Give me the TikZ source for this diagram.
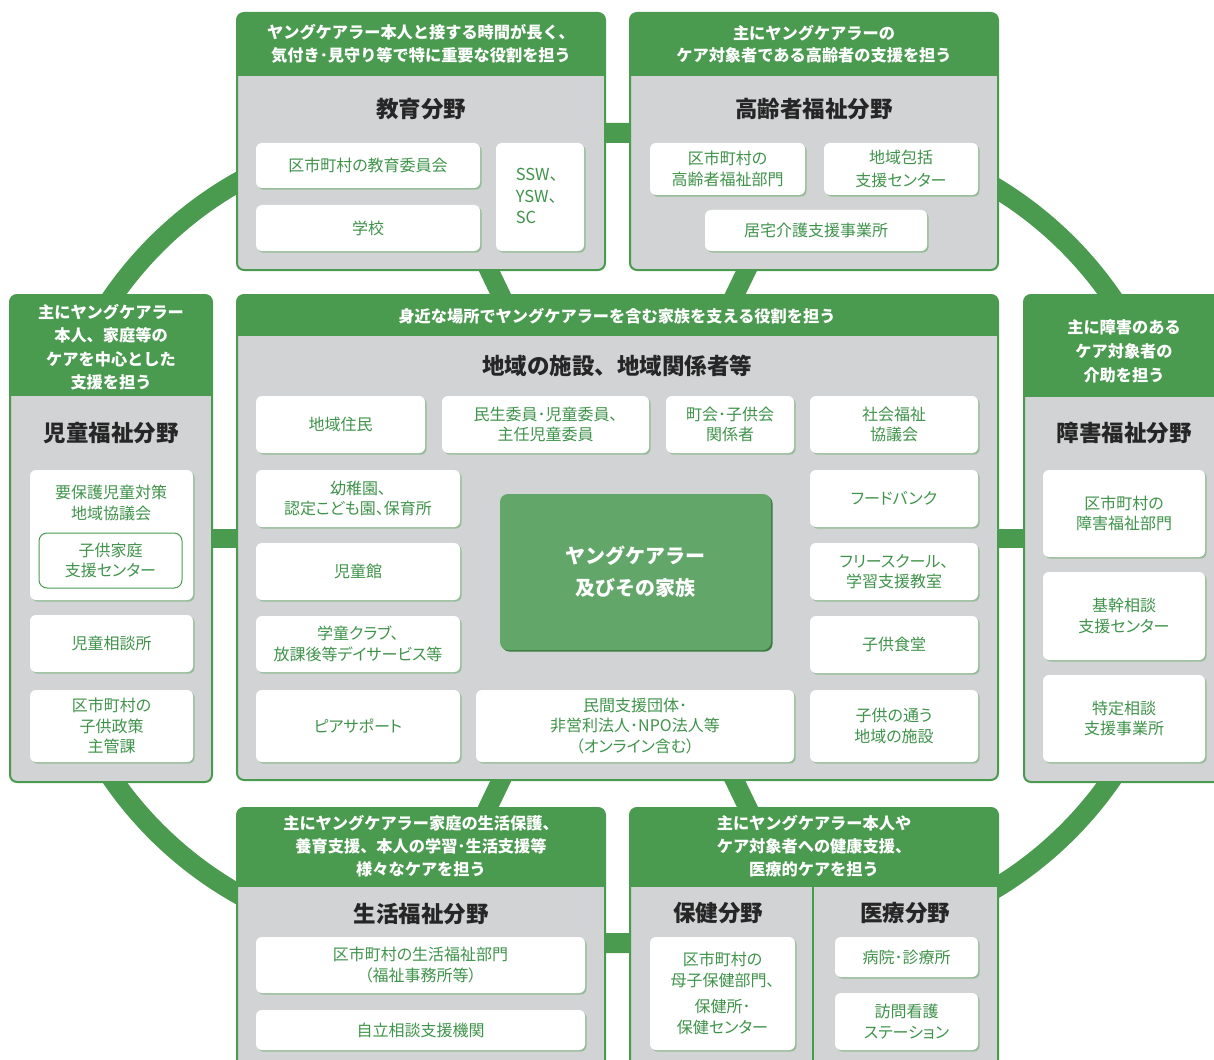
\documentclass[tikz,border=0pt]{standalone}
\usepackage{fontspec}
\setmainfont{Noto Sans CJK JP}
\newfontfamily\pjfont{Noto Sans CJK JP}[RawFeature=+palt]
\usetikzlibrary{shadows,backgrounds}
\definecolor{hdr}{HTML}{4A9A50}
\definecolor{pg}{HTML}{D2D3D5}
\definecolor{itx}{HTML}{3F934A}
\definecolor{ttl}{HTML}{262626}
\definecolor{famc}{HTML}{62A66A}
\definecolor{shc}{HTML}{97BC9A}
\tikzset{
 pbox/.style={draw=hdr, line width=2pt, fill=pg, rounded corners=7pt, inner sep=0pt, outer sep=0pt},
 hdrtxt/.style={text=white, font=\bfseries\fontsize{16.2}{22.5}\selectfont, align=center, inner sep=0pt},
 ttltxt/.style={text=ttl, font=\bfseries\fontsize{22.5}{26}\selectfont, inner sep=0pt},
 ibox/.style={fill=white, rounded corners=6pt, inner sep=0pt, text=itx, align=center,
   font=\pjfont\fontsize{16}{20.5}\selectfont,
   drop shadow={shadow xshift=1.6pt, shadow yshift=-1.6pt, fill=shc, opacity=1}},
 ring/.style={draw=hdr, line width=20pt},
 spoke/.style={draw=hdr, line width=19pt},
}
\newcommand{\mkpanel}[6]{%
 \node[pbox, anchor=north west, minimum width={#4pt-#2pt}, minimum height={#5pt-#3pt}] (#1) at (#2,#3) {};
 \begin{scope}
 \clip[rounded corners=7pt] (#2,#3) rectangle (#4,#5);
 \fill[hdr] (#2,#3) rectangle (#4,#6);
 \end{scope}}
\newcommand{\ib}[6]{\node[ibox, minimum width={#4pt-#2pt}, minimum height={#5pt-#3pt}] (#1) at ({(#2+#4)/2},{(#3+#5)/2}) {#6};}
\begin{document}
\begin{tikzpicture}[x=1pt,y=-1pt]
\useasboundingbox (0,0) rectangle (1214,1059);

% ---------- panels ----------
\mkpanel{edu}{237}{13}{605}{270}{76}
\mkpanel{eld}{630}{13}{998}{270}{76}
\mkpanel{kid}{10}{295}{212}{782}{396}
\mkpanel{dis}{1024}{295}{1226}{782}{397}
\mkpanel{cen}{237}{295}{998}{780}{336}
\mkpanel{life}{237}{808}{605}{1085}{887}
\mkpanel{hea}{630}{808}{998}{1085}{887}
\draw[hdr, line width=2pt] (813,887) -- (813,1085);

% ---------- headers ----------
\node[hdrtxt] (eduh) at (421,44) {ヤングケアラー本人と接する時間が長く、\\気付き･見守り等で特に重要な役割を担う};
\node[hdrtxt] (eldh) at (814,44) {主にヤングケアラーの\\ケア対象者である高齢者の支援を担う};
\node[hdrtxt, font=\bfseries\fontsize{16.2}{23.5}\selectfont] (kidh) at (111,347) {主にヤングケアラー\\本人、家庭等の\\ケアを中心とした\\支援を担う};
\node[hdrtxt, font=\bfseries\fontsize{16.2}{24}\selectfont] (dish) at (1124,351) {主に障害のある\\ケア対象者の\\介助を担う};
\node[hdrtxt] (cenh) at (617,316) {身近な場所でヤングケアラーを含む家族を支える役割を担う};
\node[hdrtxt, font=\bfseries\fontsize{16.2}{23}\selectfont] (lifeh) at (421,846) {主にヤングケアラー家庭の生活保護、\\養育支援、本人の学習･生活支援等\\様々なケアを担う};
\node[hdrtxt, font=\bfseries\fontsize{16.2}{23}\selectfont] (heah) at (814,846) {主にヤングケアラー本人や\\ケア対象者への健康支援、\\医療的ケアを担う};

% ---------- titles ----------
\node[ttltxt] (edut) at (421,109) {教育分野};
\node[ttltxt] (eldt) at (814,109) {高齢者福祉分野};
\node[ttltxt] (kidt) at (111,433) {児童福祉分野};
\node[ttltxt] (dist) at (1124,433) {障害福祉分野};
\node[ttltxt] (cent) at (617,366) {地域の施設、地域関係者等};
\node[ttltxt] (lifet) at (421,914) {生活福祉分野};
\node[ttltxt] (heat1) at (718,913) {保健分野};
\node[ttltxt] (heat2) at (905,913) {医療分野};

% ---------- education ----------
\ib{e1}{256}{143}{480}{188}{区市町村の教育委員会}
\ib{e2}{256}{205}{480}{251}{学校}
\ib{e3}{496}{143}{584}{251}{}
\node[text=itx, align=left, font=\fontsize{16.5}{21.5}\selectfont, inner sep=0pt] (e3t) at (541,196) {SSW、\\YSW、\\SC};

% ---------- elderly ----------
\ib{l1}{650}{143}{805}{195}{区市町村の\\高齢者福祉部門}
\ib{l2}{824}{143}{978}{195}{地域包括\\[3pt]支援センター}
\ib{l3}{705}{210}{927}{251}{居宅介護支援事業所}

% ---------- child welfare ----------
\ib{k1}{30}{470}{193}{600}{}
\node[text=itx, align=center, font=\pjfont\fontsize{16}{20.5}\selectfont, inner sep=0pt] (k1t) at (111,503) {要保護児童対策\\地域協議会};
\node[draw=hdr, line width=1pt, fill=white, rounded corners=8pt, minimum width=143pt, minimum height=55pt,
  text=itx, align=center, font=\pjfont\fontsize{16}{20.5}\selectfont, inner sep=0pt] (k1s) at (110.5,560.5) {子供家庭\\支援センター};
\ib{k2}{30}{615}{193}{672}{児童相談所}
\ib{k3}{30}{690}{193}{762}{区市町村の\\子供政策\\主管課}

% ---------- disability ----------
\ib{d1}{1043}{470}{1205}{557}{区市町村の\\障害福祉部門}
\ib{d2}{1043}{572}{1205}{660}{基幹相談\\支援センター}
\ib{d3}{1043}{675}{1205}{762}{特定相談\\支援事業所}

% ---------- community ----------
\ib{c1}{256}{396}{425}{453}{地域住民}
\ib{c2}{442}{396}{649}{453}{民生委員･児童委員、\\主任児童委員}
\ib{c3}{666}{396}{794}{453}{町会･子供会\\関係者}
\ib{c4}{810}{396}{978}{453}{社会福祉\\協議会}
\ib{c5}{256}{470}{460}{527}{幼稚園、\\認定こども園、保育所}
\ib{c6}{810}{470}{978}{527}{フードバンク}
\ib{c7}{256}{543}{460}{600}{児童館}
\ib{c8}{810}{543}{978}{600}{フリースクール、\\学習支援教室}
\ib{c9}{256}{616}{460}{672}{学童クラブ、\\放課後等デイサービス等}
\ib{c10}{810}{616}{978}{673}{子供食堂}
\ib{c11}{256}{690}{460}{762}{ピアサポート}
\ib{c12}{476}{690}{794}{762}{民間支援団体･\\非営利法人･NPO法人等\\（オンライン含む）}
\ib{c13}{810}{690}{978}{762}{子供の通う\\地域の施設}
\node[fill=famc, rounded corners=8pt, minimum width=271pt, minimum height=156pt, inner sep=0pt,
  text=white, align=center, font=\bfseries\fontsize{20}{32}\selectfont,
  drop shadow={shadow xshift=1.6pt, shadow yshift=-1.6pt, fill=hdr!80!black, opacity=1}] (fam) at (635.5,572) {ヤングケアラー\\及びその家族};

% ---------- life welfare ----------
\ib{f1}{256}{937}{585}{993}{区市町村の生活福祉部門\\（福祉事務所等）}
\ib{f2}{256}{1010}{585}{1050}{自立相談支援機関}

% ---------- health / medical ----------
\ib{h1}{650}{937}{795}{1050}{区市町村の\\母子保健部門、\\[6pt]保健所･\\保健センター}
\ib{h2}{835}{937}{978}{977}{病院･診療所}
\ib{h3}{835}{993}{978}{1050}{訪問看護\\ステーション}

% ---------- ring and spokes (behind) ----------
\begin{pgfonlayer}{background}
\fill[white] (0,0) rectangle (1214,1059);
\draw[ring, rounded corners=380pt] (45,133) rectangle (1179,943);
\coordinate (sTL) at (423,133);
\coordinate (sTR) at (813,133);
\coordinate (sBL) at (423,943);
\coordinate (sBR) at (813,943);
\draw[spoke] (cen.center) -- (sTL);
\draw[spoke] (cen.center) -- (sTR);
\draw[spoke] (cen.center) -- (sBL);
\draw[spoke] (cen.center) -- (sBR);
\draw[spoke] (kid.center) -- (dis.center);
\end{pgfonlayer}
\end{tikzpicture}
\end{document}
